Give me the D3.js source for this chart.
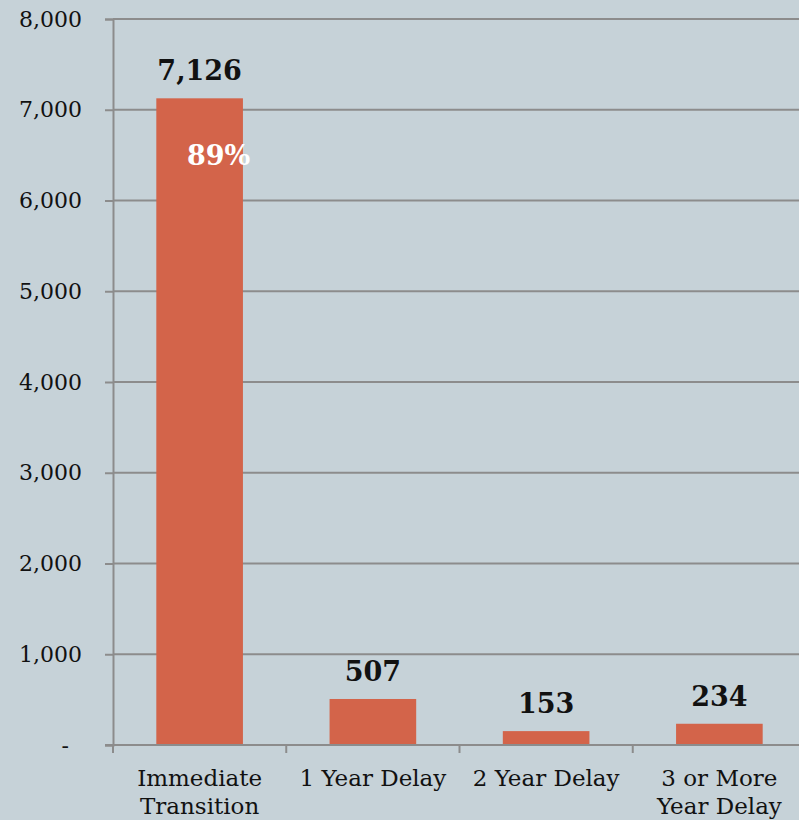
<!DOCTYPE html>
<html>
<head>
<meta charset="utf-8">
<script src="https://cdn.jsdelivr.net/npm/d3@7"></script>
<style>
  html, body { margin: 0; padding: 0; background: #c6d2d8; }
  svg, svg text { font-family: "DejaVu Serif", "Liberation Serif", serif; }
  svg { display: block; }
</style>
</head>
<body>
<div id="chart"></div>
<script>
// chart data
const categories = [["Immediate", "Transition"], ["1 Year Delay"], ["2 Year Delay"], ["3 or More", "Year Delay"]];
const values = [7126, 507, 153, 234];
const yTicks = [0, 1000, 2000, 3000, 4000, 5000, 6000, 7000, 8000];
const shareLabel = "89%";

const width = 799, height = 820;
const margin = { top: 19, right: -7, bottom: 75, left: 113 };

const svg = d3.select("#chart")
    .append("svg")
    .attr("width", width)
    .attr("height", height)
    .style("background-color", "#c6d2d8");

const x = d3.scaleBand()
    .domain(d3.range(values.length))
    .range([margin.left, width - margin.right])
    .paddingInner(0.5)
    .paddingOuter(0.25);

const y = d3.scaleLinear()
    .domain([0, 8000])
    .range([height - margin.bottom, margin.top]);

const fmt = d3.format(",");
const gridColor = "#8c8c8c";

// gridlines + y ticks
const yAxis = svg.append("g")
    .attr("transform", `translate(${margin.left},0)`)
    .call(d3.axisLeft(y)
        .tickValues(yTicks)
        .tickSize(8)
        .tickPadding(23)
        .tickFormat(d => d === 0 ? "-" : fmt(d)));

yAxis.attr("font-family", null).attr("font-size", null);
yAxis.select(".domain").attr("stroke", gridColor).attr("stroke-width", 2);
yAxis.selectAll(".tick line").attr("stroke", gridColor).attr("stroke-width", 2);
yAxis.selectAll(".tick text")
    .attr("fill", "#111")
    .attr("dx", d => d === 0 ? -13 : 0)
    .style("font-size", "22px");

svg.append("g")
    .selectAll("line")
    .data(yTicks.filter(d => d > 0))
    .join("line")
    .attr("x1", margin.left)
    .attr("x2", width)
    .attr("y1", d => y(d))
    .attr("y2", d => y(d))
    .attr("stroke", gridColor)
    .attr("stroke-width", 2);

// bars
svg.append("g")
    .selectAll("rect")
    .data(values)
    .join("rect")
    .attr("x", (d, i) => x(i))
    .attr("y", d => y(d))
    .attr("width", x.bandwidth())
    .attr("height", d => y(0) - y(d))
    .attr("fill", "#d3644a");

// x axis
const step = x.step();
const xAxis = svg.append("g")
    .attr("transform", `translate(0,${y(0)})`);

xAxis.append("line")
    .attr("x1", margin.left - 8)
    .attr("x2", width)
    .attr("stroke", gridColor)
    .attr("stroke-width", 2);

xAxis.selectAll(".xtick")
    .data(d3.range(values.length + 1))
    .join("line")
    .attr("class", "xtick")
    .attr("x1", i => margin.left + i * step)
    .attr("x2", i => margin.left + i * step)
    .attr("y1", 0)
    .attr("y2", 8)
    .attr("stroke", gridColor)
    .attr("stroke-width", 2);

xAxis.selectAll(".xlabel")
    .data(categories)
    .join("text")
    .attr("class", "xlabel")
    .attr("text-anchor", "middle")
    .attr("fill", "#111")
    .style("font-size", "23px")
    .each(function(lines, i) {
        const t = d3.select(this);
        lines.forEach((ln, k) => {
            t.append("tspan")
                .attr("x", x(i) + x.bandwidth() / 2)
                .attr("y", 41 + k * 28)
                .text(ln);
        });
    });

// value labels
svg.append("g")
    .selectAll("text")
    .data(values)
    .join("text")
    .attr("x", (d, i) => x(i) + x.bandwidth() / 2)
    .attr("y", d => y(d) - 18)
    .attr("text-anchor", "middle")
    .attr("fill", "#111")
    .style("font-size", "27px")
    .style("font-weight", "bold")
    .text(d => fmt(d));

// share label inside the first bar
svg.append("text")
    .attr("x", x(0) + x.bandwidth() / 2 + 19)
    .attr("y", y(values[0]) + 67)
    .attr("text-anchor", "middle")
    .attr("fill", "#fff")
    .style("font-size", "27px")
    .style("font-weight", "bold")
    .text(shareLabel);
</script>
</body>
</html>
